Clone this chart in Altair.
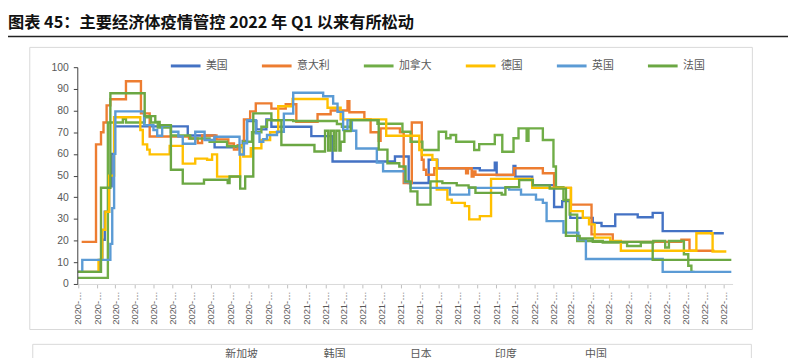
import altair as alt
import pandas as pd

title_text = "图表 45：主要经济体疫情管控 2022 年 Q1 以来有所松动"
countries = ["美国", "意大利", "加拿大", "德国", "英国", "法国"]
colors = ["#4472C4", "#ED7D31", "#70AD47", "#FFC000", "#5B9BD5", "#6BA743"]
bottom_legend = ["新加坡", "韩国", "日本", "印度", "中国"]

y_ticks = [0, 10, 20, 30, 40, 50, 60, 70, 80, 90, 100]
x_tick_dates = [
    "2020-01-22", "2020-02-22", "2020-03-22", "2020-04-22", "2020-05-22", "2020-06-22",
    "2020-07-22", "2020-08-22", "2020-09-22", "2020-10-22", "2020-11-22", "2020-12-22",
    "2021-01-22", "2021-02-22", "2021-03-22", "2021-04-22", "2021-05-22", "2021-06-22",
    "2021-07-22", "2021-08-22", "2021-09-22", "2021-10-22", "2021-11-22", "2021-12-22",
    "2022-01-22", "2022-02-22", "2022-03-22", "2022-04-22", "2022-05-22", "2022-06-22",
    "2022-07-22", "2022-08-22", "2022-09-22", "2022-10-22", "2022-11-22",
]

us_dates = ["2020-01-22", "2020-02-26", "2020-03-01", "2020-03-05", "2020-03-12", "2020-03-16",
            "2020-03-20", "2020-07-16", "2020-08-28", "2020-10-12", "2020-10-19", "2020-11-03",
            "2020-11-19", "2020-11-27", "2021-01-30", "2021-03-05", "2021-06-13", "2021-07-05",
            "2021-08-06", "2021-08-20", "2021-10-27", "2021-11-20", "2021-11-23", "2021-12-20",
            "2021-12-23", "2022-01-19", "2022-02-23", "2022-03-08", "2022-03-21", "2022-04-26",
            "2022-05-10", "2022-06-01", "2022-07-07", "2022-07-31", "2022-08-16", "2022-11-02",
            "2022-11-22"]
us_vals = [5.6, 11.1, 20.4, 33.3, 45.0, 60.0, 72.7, 68.5, 63.0, 66.0, 75.2, 71.3, 75.9, 72.5,
           68.2, 56.5, 58.8, 46.6, 57.3, 53.4, 52.4, 56.0, 50.2, 54.5, 49.5, 45.6, 35.5, 38.2,
           30.5, 28.2, 26.7, 32.1, 30.8, 32.8, 24.4, 23.4, 23.4]

it_dates = ["2020-01-28", "2020-02-20", "2020-02-28", "2020-03-03", "2020-03-08", "2020-03-14",
            "2020-04-08", "2020-05-02", "2020-05-16", "2020-07-18", "2020-08-01", "2020-08-08",
            "2020-08-31", "2020-09-19", "2020-09-28", "2020-10-04", "2020-10-14", "2020-10-24",
            "2020-11-02", "2020-11-27", "2020-12-20", "2021-01-06", "2021-02-09", "2021-03-02",
            "2021-03-29", "2021-04-01", "2021-04-25", "2021-05-05", "2021-05-18", "2021-05-21",
            "2021-06-21", "2021-06-27", "2021-07-10", "2021-07-26", "2021-07-29", "2021-08-02",
            "2021-08-15", "2021-10-05", "2021-10-08", "2021-10-14", "2021-10-17", "2021-10-20",
            "2021-12-21", "2022-02-05", "2022-02-23", "2022-03-22", "2022-04-24", "2022-05-28",
            "2022-09-15", "2022-09-28", "2022-11-07"]
it_vals = [19.4, 64.4, 70.0, 74.5, 82.4, 85.2, 93.5, 78.7, 68.0, 67.1, 65.0, 68.5, 66.7, 64.8,
           62.0, 64.0, 75.9, 79.6, 83.3, 80.9, 82.9, 74.8, 78.3, 80.0, 84.3, 79.2, 76.0, 70.0,
           66.0, 71.8, 70.0, 46.6, 74.5, 57.3, 52.7, 50.4, 53.4, 51.0, 53.4, 49.5, 51.9, 50.4,
           53.4, 51.1, 44.3, 36.6, 22.9, 19.4, 20.4, 15.3, 15.3]

ca_dates = ["2020-01-22", "2020-03-10", "2020-04-03", "2020-04-08", "2020-05-08", "2020-05-18",
            "2020-05-29", "2020-06-19", "2020-07-20", "2020-08-20", "2020-09-17", "2020-10-13",
            "2020-10-27", "2020-11-11", "2020-11-20", "2021-01-01", "2021-03-12", "2021-03-20",
            "2021-04-03", "2021-05-16", "2021-06-25", "2021-07-08", "2021-07-27", "2021-08-22",
            "2021-09-03", "2021-09-10", "2021-09-19", "2021-10-18", "2021-10-26", "2021-11-20",
            "2021-12-02", "2021-12-20", "2021-12-28", "2022-01-10", "2022-01-13", "2022-02-05",
            "2022-02-22", "2022-02-26", "2022-03-10", "2022-03-20", "2022-04-01", "2022-05-12",
            "2022-06-20", "2022-07-12", "2022-08-01", "2022-08-20", "2022-08-26", "2022-09-19",
            "2022-09-26", "2022-10-01", "2022-10-06"]
ca_vals = [2.8, 74.5, 76.2, 74.5, 76.9, 74.5, 72.2, 68.5, 67.1, 65.6, 63.5, 65.6, 70.0, 72.5,
           75.6, 75.2, 73.8, 72.5, 75.6, 73.9, 70.2, 65.6, 61.8, 70.2, 67.2, 68.7, 65.6, 61.8,
           64.5, 68.7, 61.0, 67.2, 71.8, 66.0, 71.8, 66.4, 54.2, 44.7, 38.8, 32.0, 19.8, 19.1,
           17.5, 19.1, 19.8, 16.8, 19.8, 13.7, 8.4, 5.6, 5.6]

de_dates = ["2020-01-22", "2020-02-24", "2020-03-01", "2020-03-06", "2020-03-12", "2020-03-20",
            "2020-05-01", "2020-05-05", "2020-05-12", "2020-05-16", "2020-06-17", "2020-07-08",
            "2020-07-28", "2020-08-16", "2020-08-24", "2020-09-01", "2020-10-08", "2020-10-13",
            "2020-10-25", "2020-11-11", "2020-11-25", "2020-12-08", "2020-12-31", "2021-02-25",
            "2021-03-18", "2021-05-30", "2021-07-22", "2021-07-26", "2021-08-12", "2021-08-19",
            "2021-09-05", "2021-09-12", "2021-10-03", "2021-10-10", "2021-10-27", "2021-11-14",
            "2022-01-19", "2022-03-22", "2022-04-10", "2022-04-20", "2022-04-29", "2022-05-24",
            "2022-06-10", "2022-10-09", "2022-11-04", "2022-11-26"]
de_vals = [5.6, 11.1, 25.0, 33.3, 50.0, 76.9, 71.0, 64.4, 62.0, 59.8, 63.7, 55.5, 57.8, 57.3,
           59.8, 49.5, 63.8, 58.8, 62.6, 66.4, 70.0, 82.0, 85.3, 81.3, 75.9, 68.4, 61.8, 59.5,
           57.3, 43.5, 38.9, 37.4, 35.9, 29.8, 31.3, 48.5, 44.3, 33.6, 30.5, 27.5, 21.4, 19.8,
           15.3, 23.4, 15.0, 15.0]

uk_dates = ["2020-01-22", "2020-01-29", "2020-03-14", "2020-03-17", "2020-03-20", "2020-03-22",
            "2020-05-07", "2020-05-22", "2020-05-28", "2020-06-05", "2020-06-19", "2020-07-01",
            "2020-07-08", "2020-07-28", "2020-08-12", "2020-08-28", "2020-10-07", "2020-10-14",
            "2020-10-19", "2020-11-02", "2020-11-08", "2020-11-14", "2020-11-20", "2020-12-06",
            "2020-12-17", "2021-01-01", "2021-02-18", "2021-03-06", "2021-03-13", "2021-03-22",
            "2021-03-29", "2021-04-05", "2021-04-12", "2021-05-15", "2021-05-25", "2021-06-29",
            "2021-07-08", "2021-09-09", "2021-10-10", "2021-12-13", "2022-01-01", "2022-01-25",
            "2022-02-05", "2022-02-11", "2022-03-10", "2022-04-03", "2022-04-15", "2022-08-16",
            "2022-12-04"]
uk_vals = [5.6, 11.1, 18.5, 35.0, 60.0, 79.6, 73.3, 71.0, 68.4, 72.9, 70.2, 68.0, 64.7, 70.2,
           66.4, 67.9, 59.7, 64.9, 75.6, 69.5, 65.6, 66.8, 68.7, 70.2, 78.6, 88.2, 86.6, 83.2,
           79.4, 71.0, 75.6, 70.7, 62.5, 56.0, 52.0, 47.0, 44.3, 41.2, 44.3, 43.5, 41.2, 38.9,
           37.4, 29.0, 23.7, 20.6, 11.5, 5.6, 5.6]

fr_dates = ["2020-01-22", "2020-02-28", "2020-03-14", "2020-05-08", "2020-05-25", "2020-06-01",
            "2020-06-19", "2020-07-08", "2020-08-11", "2020-09-18", "2020-09-21", "2020-10-08",
            "2020-10-16", "2020-10-29", "2020-11-27", "2020-12-13", "2021-02-04", "2021-02-21",
            "2021-02-26", "2021-03-02", "2021-03-07", "2021-03-11", "2021-03-16", "2021-03-18",
            "2021-03-24", "2021-04-03", "2021-05-18", "2021-06-01", "2021-06-20", "2021-06-30",
            "2021-07-08", "2021-07-19", "2021-08-09", "2021-08-28", "2021-09-20", "2021-10-09",
            "2021-10-20", "2021-12-01", "2021-12-07", "2021-12-29", "2022-01-20", "2022-02-16",
            "2022-03-14", "2022-04-05", "2022-04-26", "2022-07-31", "2022-12-04"]
fr_vals = [5.6, 44.4, 88.0, 77.4, 74.8, 73.3, 52.7, 46.3, 48.1, 46.5, 49.6, 44.0, 49.6, 78.7,
           75.5, 64.1, 61.1, 70.7, 61.5, 70.7, 61.5, 70.7, 61.5, 65.6, 70.5, 75.6, 62.0, 55.7,
           54.2, 47.3, 42.7, 36.6, 47.3, 46.5, 45.5, 44.5, 42.0, 41.2, 44.7, 47.9, 45.5, 44.0,
           22.2, 21.0, 19.4, 11.1, 11.1]

series = [(countries[0], us_dates, us_vals), (countries[1], it_dates, it_vals),
          (countries[2], ca_dates, ca_vals), (countries[3], de_dates, de_vals),
          (countries[4], uk_dates, uk_vals), (countries[5], fr_dates, fr_vals)]
rows = []
for i, (name, ds, vs) in enumerate(series):
    for d, v in zip(ds, vs):
        rows.append({"country": name, "date": d, "value": v, "order": i})
df = pd.DataFrame(rows)


def dt(s):
    y, m, d = s.split("-")
    return alt.DateTime(year=int(y), month=int(m), date=int(d), utc=True)


LABEL_FONT = "Liberation Sans"
CJK = "Noto Sans CJK SC"

lines = alt.Chart(df).mark_line(interpolate="step-after", strokeWidth=2.4).encode(
    x=alt.X("date:T",
            scale=alt.Scale(type="utc", domain=[dt("2020-01-21"), dt("2022-12-06")]),
            axis=alt.Axis(title=None, values=[dt(s) for s in x_tick_dates],
                          labelExpr="utcFormat(datum.value, '%Y') + '-…'",
                          labelAngle=270, labelAlign="right", labelBaseline="middle",
                          labelFont=LABEL_FONT, labelFontSize=9.5, labelColor="#595959",
                          labelPadding=3, labelOverlap=False, labelFlush=False,
                          tickSize=4, tickColor="#BFBFBF", domainColor="#D9D9D9",
                          grid=False, zindex=1)),
    y=alt.Y("value:Q", scale=alt.Scale(domain=[0, 100], nice=False),
            axis=alt.Axis(title=None, values=y_ticks, labelFont=LABEL_FONT,
                          labelFontSize=10.5, labelColor="#595959", labelPadding=5,
                          tickSize=4, tickColor="#404040", domainColor="#404040",
                          grid=False, zindex=1)),
    color=alt.Color("country:N", sort=countries,
                    scale=alt.Scale(domain=countries, range=colors),
                    legend=alt.Legend(title=None, orient="none", legendX=93, legendY=-18,
                                      direction="horizontal", symbolType="stroke",
                                      symbolSize=900, symbolStrokeWidth=3,
                                      labelFont=CJK, labelFontSize=11, labelColor="#595959",
                                      labelOffset=4, columnPadding=28, padding=0,
                                      labelLimit=200)),
    order=alt.Order("order:Q"),
)

one = pd.DataFrame({"a": [0]})

box = alt.Chart(one).mark_rect(fillOpacity=0, stroke="#D9D9D9", strokeWidth=1).encode(
    x=alt.value(-48), x2=alt.value(682), y=alt.value(-20), y2=alt.value(265))
box2 = alt.Chart(one).mark_rect(fillOpacity=0, stroke="#D9D9D9", strokeWidth=1).encode(
    x=alt.value(-45), x2=alt.value(681), y=alt.value(280), y2=alt.value(330))

title = alt.Chart(pd.DataFrame({"t": [title_text]})).mark_text(
    align="left", baseline="middle", font=CJK, fontSize=16.4, fontWeight="bold",
    color="#111111").encode(text="t:N", x=alt.value(-70), y=alt.value(-45))
underline = alt.Chart(one).mark_rule(color="#222222", strokeWidth=1.5).encode(
    x=alt.value(-70), x2=alt.value(718), y=alt.value(-31))

bl_x = [166, 260, 347, 433, 524]
bl_layers = []
for i, name in enumerate(bottom_legend):
    bl_layers.append(
        alt.Chart(pd.DataFrame({"t": [name]})).mark_text(
            align="center", baseline="middle", font=CJK, fontSize=11, color="#595959"
        ).encode(text="t:N", x=alt.value(bl_x[i]), y=alt.value(291))
    )

chart = alt.layer(box, box2, lines, title, underline, *bl_layers).properties(
    width=662, height=219,
    autosize=alt.AutoSizeParams(type="none"),
    padding={"left": 70, "top": 58, "right": 56, "bottom": 73},
    background="white",
).configure_view(stroke=None)

chart.save("out.html", embed_options={"renderer": "svg", "actions": False})
